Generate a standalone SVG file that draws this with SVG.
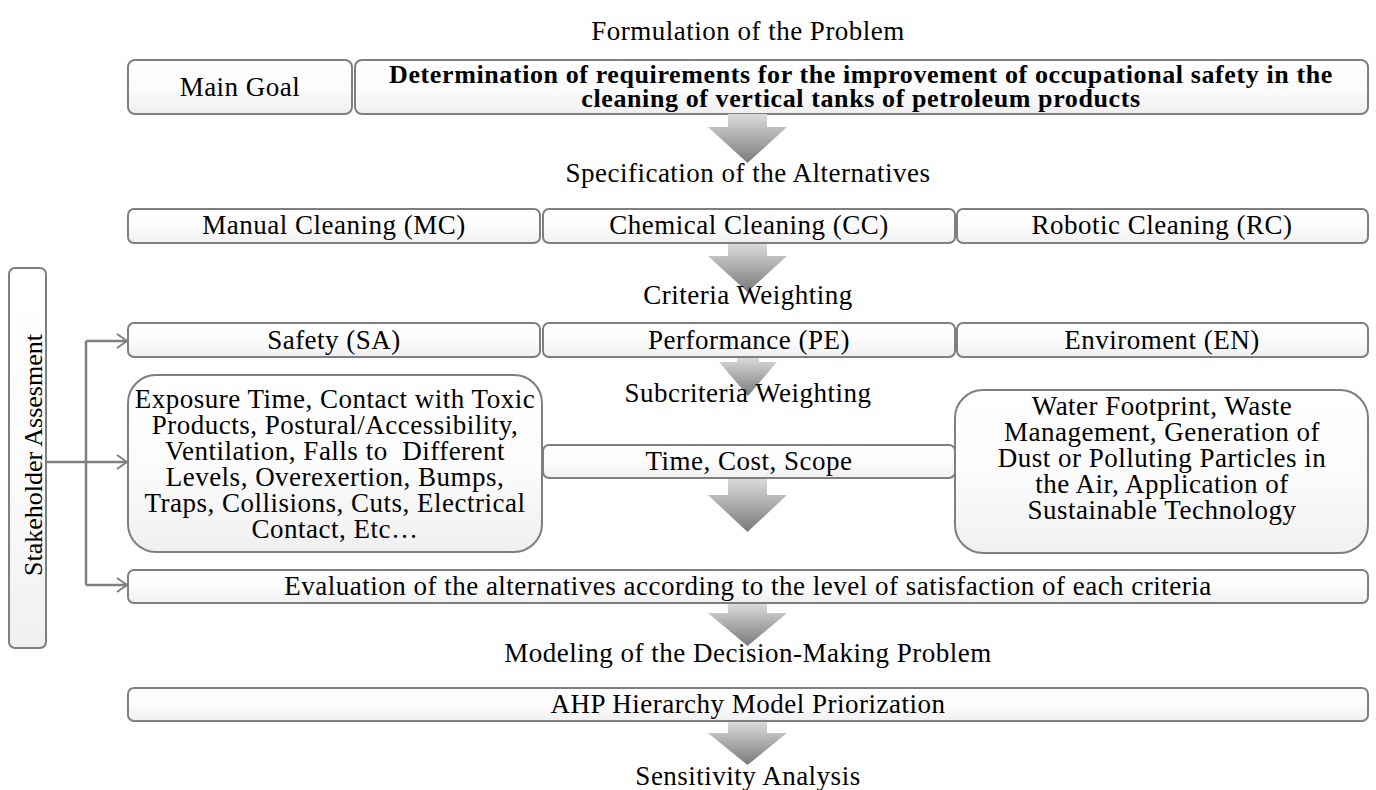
<svg xmlns="http://www.w3.org/2000/svg" width="1376" height="790" viewBox="0 0 1376 790">
<style>
text{font-family:"Liberation Serif","Times New Roman",serif;font-size:27px;fill:#000;text-anchor:middle;letter-spacing:0.5px}
.b{font-weight:bold;font-size:26px;letter-spacing:0.6px}
.v{font-size:26px;letter-spacing:0}
.box{fill:url(#bg);stroke:#7f7f7f;stroke-width:2}
.arr{fill:url(#ag)}
.con{fill:none;stroke:#7f7f7f;stroke-width:2.5;marker-end:url(#chev)}
</style>
<defs>
<linearGradient id="bg" x1="0" y1="0" x2="0" y2="1"><stop offset="0" stop-color="#ffffff"/><stop offset="0.5" stop-color="#fcfcfc"/><stop offset="1" stop-color="#f0f0f0"/></linearGradient>
<linearGradient id="ag" x1="0" y1="0" x2="0" y2="1"><stop offset="0" stop-color="#dcdcdc"/><stop offset="1" stop-color="#7a7a7a"/></linearGradient>
<marker id="chev" viewBox="0 0 12 16" refX="11" refY="8" markerWidth="12" markerHeight="16" markerUnits="userSpaceOnUse" orient="auto"><path d="M1,1 L11,8 L1,15" fill="none" stroke="#7f7f7f" stroke-width="2"/></marker>
</defs>
<rect width="1376" height="790" fill="#fff"/>
<text x="748" y="40">Formulation of the Problem</text>
<g id="main-goal"><rect class="box" x="128" y="60" width="224" height="54" rx="7"/><text x="240" y="96">Main Goal</text></g>
<g id="goal"><rect class="box" x="355" y="60" width="1013" height="54" rx="7"/><text class="b"><tspan x="861" y="83">Determination of requirements for the improvement of occupational safety in the</tspan><tspan x="861" y="107">cleaning of vertical tanks of petroleum products</tspan></text></g>
<g id="arrows">
<path class="arr" d="M728,114H767V127H787L747.5,163L708,127H728Z"/>
<path class="arr" d="M728,243H767V256H787L747.5,292L708,256H728Z"/>
<path class="arr" d="M737,357H759V362H777L748,396L719,362H737Z"/>
<path class="arr" d="M728,478H767V495H787L747.5,532L708,495H728Z"/>
<path class="arr" d="M728,603H767V613H787L747.5,646L708,613H728Z"/>
<path class="arr" d="M728,721H767V733H787L747.5,765L708,733H728Z"/>
</g>
<text x="748" y="182">Specification of the Alternatives</text>
<g id="mc"><rect class="box" x="128" y="209" width="412" height="34" rx="6"/><text x="334" y="234">Manual Cleaning (MC)</text></g>
<g id="cc"><rect class="box" x="543" y="209" width="412" height="34" rx="6"/><text x="749" y="234">Chemical Cleaning (CC)</text></g>
<g id="rc"><rect class="box" x="957" y="209" width="411" height="34" rx="6"/><text x="1162" y="234">Robotic Cleaning (RC)</text></g>
<text x="748" y="304">Criteria Weighting</text>
<g id="sa"><rect class="box" x="128" y="323" width="412" height="34" rx="6"/><text x="334" y="349">Safety (SA)</text></g>
<g id="pe"><rect class="box" x="543" y="323" width="412" height="34" rx="6"/><text x="749" y="349">Performance (PE)</text></g>
<g id="en"><rect class="box" x="957" y="323" width="411" height="34" rx="6"/><text x="1162" y="349">Enviroment (EN)</text></g>
<text x="748" y="402">Subcriteria Weighting</text>
<g id="sa-sub"><rect class="box" x="128" y="375" width="414" height="177" rx="28"/>
<text xml:space="preserve"><tspan x="335" y="408">Exposure Time, Contact with Toxic</tspan><tspan x="335" y="434">Products, Postural/Accessibility,</tspan><tspan x="335" y="460">Ventilation, Falls to  Different</tspan><tspan x="335" y="486">Levels, Overexertion, Bumps,</tspan><tspan x="335" y="512">Traps, Collisions, Cuts, Electrical</tspan><tspan x="335" y="538">Contact, Etc…</tspan></text></g>
<g id="pe-sub"><rect class="box" x="543" y="445" width="412" height="33" rx="6"/><text x="749" y="470">Time, Cost, Scope</text></g>
<g id="en-sub"><rect class="box" x="955" y="390" width="413" height="163" rx="28"/>
<text><tspan x="1162" y="415">Water Footprint, Waste</tspan><tspan x="1162" y="441">Management, Generation of</tspan><tspan x="1162" y="467">Dust or Polluting Particles in</tspan><tspan x="1162" y="493">the Air, Application of</tspan><tspan x="1162" y="519">Sustainable Technology</tspan></text></g>
<g id="eval"><rect class="box" x="128" y="570" width="1240" height="33" rx="6"/><text x="748" y="595">Evaluation of the alternatives according to the level of satisfaction of each criteria</text></g>
<text x="748" y="662">Modeling of the Decision-Making Problem</text>
<g id="ahp"><rect class="box" x="128" y="688" width="1240" height="33" rx="6"/><text x="748" y="713">AHP Hierarchy Model Priorization</text></g>
<text x="748" y="785">Sensitivity Analysis</text>
<g id="stakeholder"><rect class="box" x="9" y="268" width="37" height="380" rx="6"/><text class="v" transform="translate(42,455) rotate(-90)">Stakeholder Assesment</text></g>
<g id="connectors">
<path d="M46,462H86M86,341V585" fill="none" stroke="#7f7f7f" stroke-width="2.5"/>
<path class="con" d="M86,341H127"/>
<path class="con" d="M86,462H127"/>
<path class="con" d="M86,585H127"/>
</g>
</svg>
